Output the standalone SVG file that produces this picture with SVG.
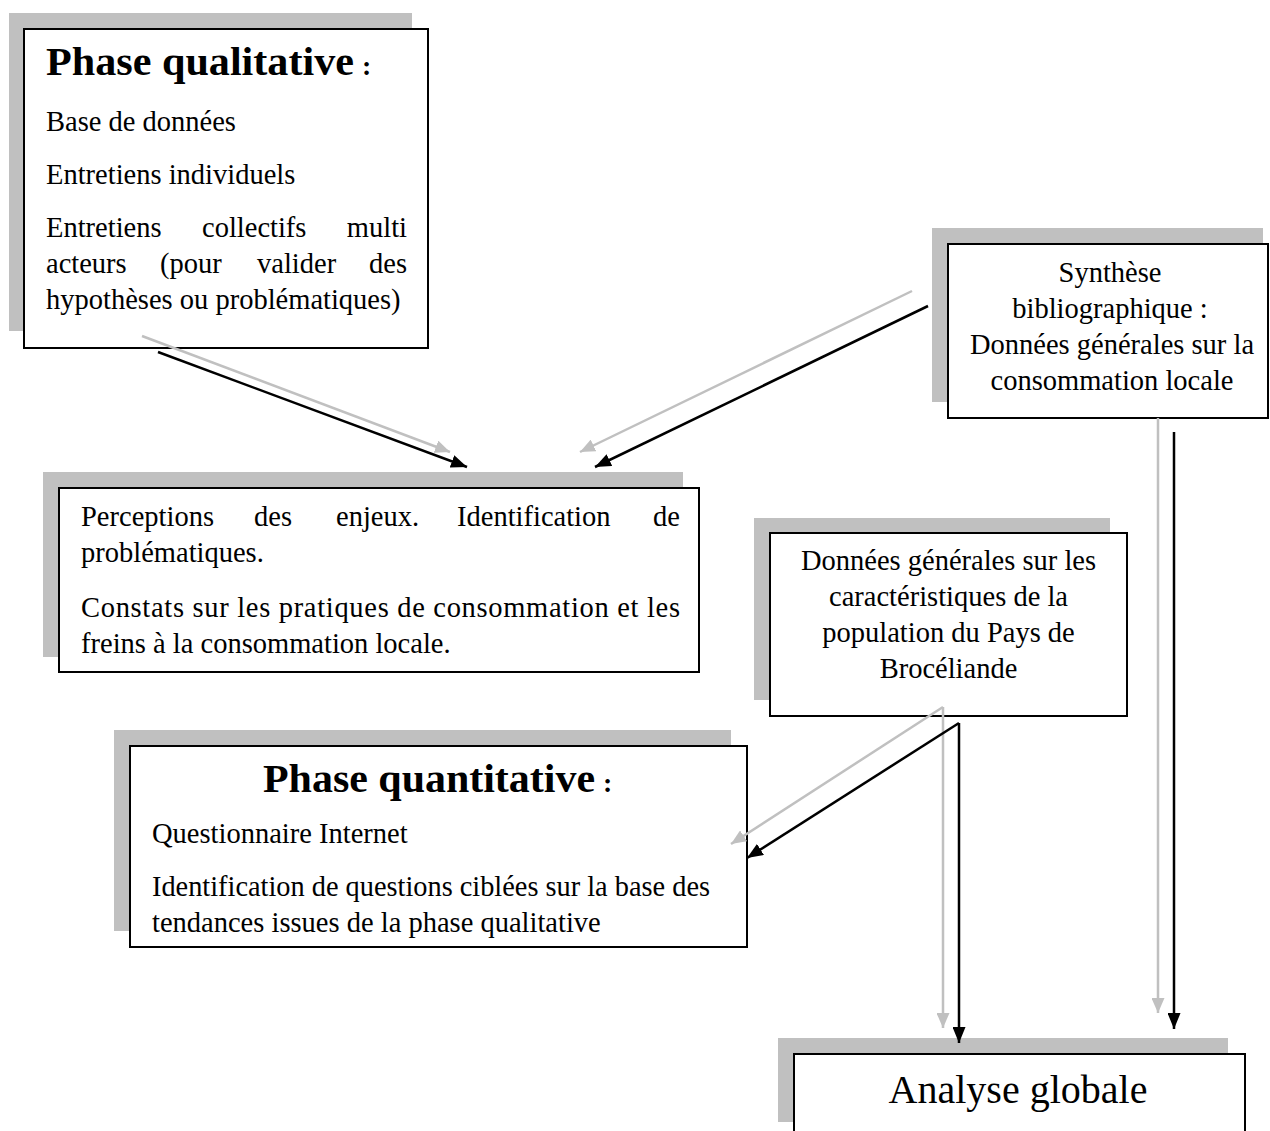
<svg xmlns="http://www.w3.org/2000/svg" width="1270" height="1131" viewBox="0 0 1270 1131">
<style>
.sh{fill:#c0c0c0;stroke:none}
.bx{fill:#fff;stroke:#000;stroke-width:2}
.t{font-family:"Liberation Serif","Times New Roman",serif;font-size:28.5px;fill:#000}
.c{text-anchor:middle}
.h{font-family:"Liberation Serif","Times New Roman",serif;font-size:40px;font-weight:bold;fill:#000}
.col{font-family:"Liberation Serif","Times New Roman",serif;font-size:28px;font-weight:bold;fill:#000}
.big{font-family:"Liberation Serif","Times New Roman",serif;font-size:40px;fill:#000;text-anchor:middle}
.ab{stroke:#000;stroke-width:2.5;fill:none}
.ag{stroke:#c0c0c0;stroke-width:2.5;fill:none}
</style>
<defs>
<marker id="mb" markerUnits="userSpaceOnUse" markerWidth="17" markerHeight="13" refX="16" refY="6.5" orient="auto"><path d="M0,0 L16,6.5 L0,13 z" fill="#000"/></marker>
<marker id="mg" markerUnits="userSpaceOnUse" markerWidth="16" markerHeight="13" refX="15" refY="6.5" orient="auto"><path d="M0,0 L15,6.5 L0,13 z" fill="#c0c0c0"/></marker>
</defs>
<rect x="0" y="0" width="1270" height="1131" fill="#fff"/>

<g id="qualitative">
<rect class="sh" x="9" y="13" width="403" height="318"/>
<rect class="bx" x="24" y="29" width="404" height="319"/>
<text class="h" x="46" y="75" textLength="308" lengthAdjust="spacingAndGlyphs">Phase qualitative</text>
<text class="col" x="362" y="75">:</text>
<text class="t" x="46" y="131">Base de données</text>
<text class="t" x="46" y="184">Entretiens individuels</text>
<text class="t" y="237"><tspan x="46">Entretiens</tspan><tspan x="202">collectifs</tspan></text>
<text class="t" x="407" y="237" text-anchor="end">multi</text>
<text class="t" y="273"><tspan x="46">acteurs</tspan><tspan x="160">(pour</tspan><tspan x="257">valider</tspan></text>
<text class="t" x="407" y="273" text-anchor="end">des</text>
<text class="t" x="46" y="309">hypothèses ou problématiques)</text>
</g>

<g id="synthese">
<rect class="sh" x="932" y="228" width="331" height="174"/>
<rect class="bx" x="948" y="244" width="320" height="174"/>
<text class="t c" x="1110" y="282">Synthèse</text>
<text class="t c" x="1110" y="318">bibliographique :</text>
<text class="t c" x="1112" y="354">Données générales sur la</text>
<text class="t c" x="1112" y="390">consommation locale</text>
</g>

<g id="perceptions">
<rect class="sh" x="43" y="472" width="640" height="185"/>
<rect class="bx" x="59" y="488" width="640" height="184"/>
<text class="t" y="526"><tspan x="81">Perceptions</tspan><tspan x="254">des</tspan><tspan x="336">enjeux.</tspan><tspan x="457">Identification</tspan></text>
<text class="t" x="680" y="526" text-anchor="end">de</text>
<text class="t" x="81" y="562">problématiques.</text>
<text class="t" x="81" y="617" textLength="599" lengthAdjust="spacing">Constats sur les pratiques de consommation et les</text>
<text class="t" x="81" y="653">freins à la consommation locale.</text>
</g>

<g id="population">
<rect class="sh" x="754" y="518" width="356" height="182"/>
<rect class="bx" x="770" y="533" width="357" height="183"/>
<text class="t c" x="948.5" y="570">Données générales sur les</text>
<text class="t c" x="948.5" y="606">caractéristiques de la</text>
<text class="t c" x="948.5" y="642">population du Pays de</text>
<text class="t c" x="948.5" y="678">Brocéliande</text>
</g>

<g id="quantitative">
<rect class="sh" x="114" y="730" width="617" height="201"/>
<rect class="bx" x="130" y="746" width="617" height="201"/>
<text class="h" x="263" y="792" textLength="332" lengthAdjust="spacingAndGlyphs">Phase quantitative</text>
<text class="col" x="603" y="792">:</text>
<text class="t" x="152" y="843">Questionnaire Internet</text>
<text class="t" x="152" y="896" textLength="558" lengthAdjust="spacingAndGlyphs">Identification de questions ciblées sur la base des</text>
<text class="t" x="152" y="932">tendances issues de la phase qualitative</text>
</g>

<g id="analyse">
<rect class="sh" x="778" y="1038" width="450" height="84"/>
<rect class="bx" x="794" y="1054" width="451" height="100"/>
<text class="big" x="1018" y="1103">Analyse globale</text>
</g>

<g id="connectors">
<line class="ag" x1="142" y1="336" x2="450" y2="452" marker-end="url(#mg)"/>
<line class="ab" x1="158" y1="352" x2="467" y2="467" marker-end="url(#mb)"/>
<line class="ag" x1="912" y1="291" x2="580" y2="452" marker-end="url(#mg)"/>
<line class="ab" x1="928" y1="306" x2="595" y2="467" marker-end="url(#mb)"/>
<line class="ag" x1="1158" y1="418" x2="1158" y2="1013" marker-end="url(#mg)"/>
<line class="ab" x1="1174" y1="432" x2="1174" y2="1029" marker-end="url(#mb)"/>
<line class="ag" x1="943" y1="707" x2="943" y2="1028" marker-end="url(#mg)"/>
<line class="ab" x1="959" y1="723" x2="959" y2="1043" marker-end="url(#mb)"/>
<line class="ag" x1="943" y1="707" x2="731" y2="844" marker-end="url(#mg)"/>
<line class="ab" x1="959" y1="723" x2="747" y2="858" marker-end="url(#mb)"/>
</g>
</svg>
